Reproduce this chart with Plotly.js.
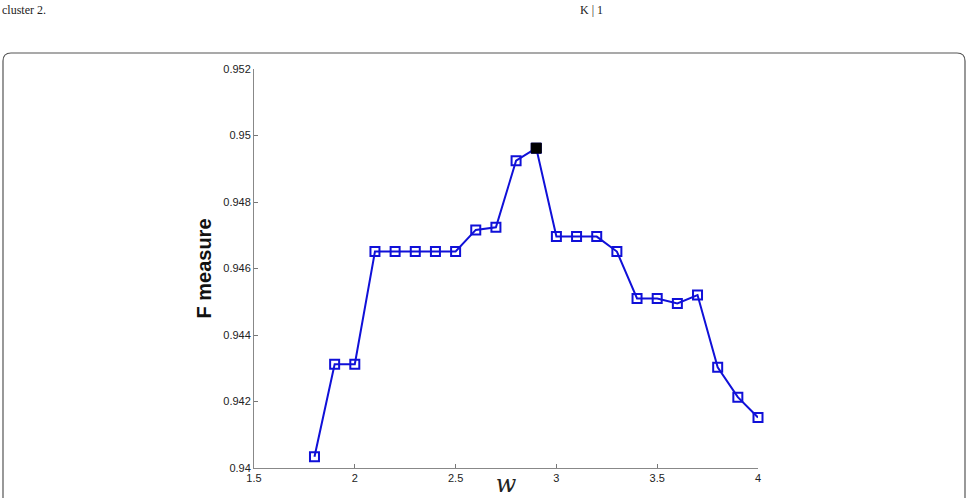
<!DOCTYPE html>
<html>
<head>
<meta charset="utf-8">
<script src="https://cdn.plot.ly/plotly-3.0.1.min.js"></script>
<style>html,body{margin:0;padding:0;background:#fff;}#chart{width:968px;height:498px;}</style>
</head>
<body>
<div id="chart"></div>
<script>
// Data
const wValues = [1.8, 1.9, 2.0, 2.1, 2.2, 2.3, 2.4, 2.5, 2.6, 2.7, 2.8, 2.9, 3.0, 3.1, 3.2, 3.3, 3.4, 3.5, 3.6, 3.7, 3.8, 3.9, 4.0];
const fMeasure = [0.94034, 0.94312, 0.94312, 0.94651, 0.94651, 0.94651, 0.94651, 0.94651, 0.94716, 0.94724, 0.94924, 0.94962, 0.94696, 0.94696, 0.94696, 0.94651, 0.94510, 0.94510, 0.94495, 0.94520, 0.94303, 0.94213, 0.94152];
const xTickVals = [1.5, 2, 2.5, 3, 3.5, 4];
const xTickText = ["1.5", "2", "2.5", "3", "3.5", "4"];
const yTickVals = [0.940, 0.942, 0.944, 0.946, 0.948, 0.950, 0.952];
const yTickText = ["0.94", "0.942", "0.944", "0.946", "0.948", "0.95", "0.952"];

let best = 0;
fMeasure.forEach((v, i) => { if (v > fMeasure[best]) best = i; });

const blue = "#1010d8";
const traces = [
  {
    x: wValues, y: fMeasure, type: "scatter", mode: "lines+markers",
    line: {color: blue, width: 2},
    marker: {symbol: "square-open", size: 9, color: blue, line: {width: 2, color: blue}},
    cliponaxis: false, hoverinfo: "x+y", showlegend: false
  },
  {
    x: [wValues[best]], y: [fMeasure[best]], type: "scatter", mode: "markers",
    marker: {symbol: "square", size: 10, color: "#000000", line: {width: 1, color: "#000000"}},
    cliponaxis: false, showlegend: false
  }
];

// frame with rounded corners (paper coords)
const W = 968, H = 498, L = 254, R = 210, T = 69, B = 30;
const pw = W - L - R, ph = H - T - B;
function px(x) { return (x - L) / pw; }
function py(y) { return 1 - (y - T) / ph; }
const x0 = px(3), x1 = px(965), yTop = py(53), yBot = py(520), rX = 8 / pw, rY = 8 / ph;
const framePath = `M ${x0} ${yBot} L ${x0} ${yTop - rY} Q ${x0} ${yTop} ${x0 + rX} ${yTop} L ${x1 - rX} ${yTop} Q ${x1} ${yTop} ${x1} ${yTop - rY} L ${x1} ${yBot}`;

const layout = {
  width: W, height: H,
  margin: {l: L, r: R, t: T, b: B, pad: 0},
  paper_bgcolor: "#ffffff", plot_bgcolor: "#ffffff",
  font: {family: "Liberation Sans, Arial, sans-serif", color: "#222"},
  xaxis: {
    range: [1.5, 4], tickvals: xTickVals, ticktext: xTickText,
    ticks: "inside", ticklen: 4, tickcolor: "#777", tickwidth: 1,
    showline: true, linecolor: "#888", linewidth: 1, showgrid: false, zeroline: false,
    tickfont: {size: 11, color: "#222"},
    title: {text: "w", font: {family: "DejaVu Serif, serif", size: 24, color: "#222", style: "italic"}, standoff: 0}
  },
  yaxis: {
    range: [0.94, 0.952], tickvals: yTickVals, ticktext: yTickText,
    ticks: "inside", ticklen: 4, tickcolor: "#777", tickwidth: 1,
    showline: true, linecolor: "#888", linewidth: 1, showgrid: false, zeroline: false,
    tickfont: {size: 11, color: "#222"},
    title: {text: "<b>F measure</b>", font: {size: 20, color: "#111"}, standoff: 6}
  },
  shapes: [
    {type: "path", xref: "paper", yref: "paper", path: framePath, line: {color: "#555", width: 1.2}, layer: "below"}
  ],
  annotations: [
    {text: "cluster 2.", xref: "paper", yref: "paper", x: px(0), y: py(1), xanchor: "left", yanchor: "top", showarrow: false,
     font: {family: "Liberation Serif, serif", size: 12, color: "#222"}},
    {text: "K | 1", xref: "paper", yref: "paper", x: px(578), y: py(1), xanchor: "left", yanchor: "top", showarrow: false,
     font: {family: "Liberation Serif, serif", size: 12, color: "#222"}}
  ]
};

Plotly.newPlot("chart", traces, layout, {displayModeBar: false, staticPlot: true});
</script>
</body>
</html>
